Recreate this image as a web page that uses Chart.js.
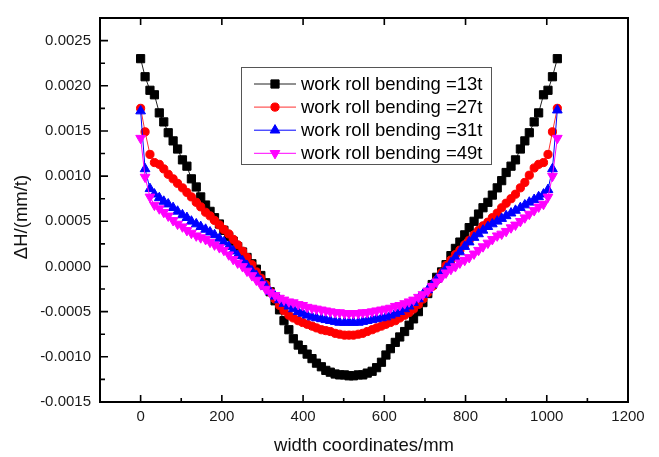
<!DOCTYPE html>
<html>
<head>
<meta charset="utf-8">
<script src="https://cdn.jsdelivr.net/npm/chart.js@4.4.0/dist/chart.umd.min.js"></script>
<style>
  html, body { margin: 0; padding: 0; background: #fff; }
  #wrap { width: 659px; height: 457px; }
</style>
</head>
<body>
<div id="wrap"><canvas id="chart" width="659" height="457"></canvas></div>
<script>
// width coordinate of each node (mm)
const widthMm = [0, 11, 23, 34, 46, 57, 68, 80, 91, 103, 114, 125, 137, 148, 160, 171, 182, 194, 205, 217,
  228, 239, 251, 262, 274, 285, 296, 308, 319, 331, 342, 353, 365, 376, 388, 399, 410, 422, 433, 445,
  456, 467, 479, 490, 502, 513, 524, 536, 547, 558, 570, 581, 593, 604, 615, 627, 638, 650, 661, 672,
  684, 695, 707, 718, 729, 741, 752, 764, 775, 786, 798, 809, 821, 832, 843, 855, 866, 878, 889, 900,
  912, 923, 935, 946, 957, 969, 980, 992, 1003, 1014, 1026];

const bend13 = [0.00230, 0.00210, 0.00195, 0.00190, 0.00170, 0.00160, 0.00148, 0.00139, 0.00130, 0.00118,
  0.00111, 0.00097, 0.00088, 0.00077, 0.00068, 0.00061, 0.00054, 0.00047, 0.00040, 0.00033,
  0.00028, 0.00022, 0.00016, 0.00010, 0.00003, -0.00003, -0.00010, -0.00018, -0.00028, -0.00038,
  -0.00048, -0.00060, -0.00070, -0.00080, -0.00087, -0.00092, -0.00097, -0.00102, -0.00107, -0.00111,
  -0.00115, -0.00117, -0.00119, -0.00120, -0.00120, -0.00121,
  -0.00121, -0.00120, -0.00120, -0.00118, -0.00116, -0.00112, -0.00106, -0.00098, -0.00091, -0.00084,
  -0.00078, -0.00072, -0.00065, -0.00058, -0.00050, -0.00040, -0.00030, -0.00020, -0.00012, -0.00006,
  0.00002, 0.00012, 0.00020, 0.00027, 0.00035, 0.00043, 0.00050, 0.00058, 0.00065, 0.00071,
  0.00079, 0.00087, 0.00095, 0.00104, 0.00111, 0.00118, 0.00130, 0.00139, 0.00148, 0.00160,
  0.00170, 0.00190, 0.00195, 0.00210, 0.00230];

const bend27 = [0.00175, 0.00149, 0.00124, 0.00115, 0.00113, 0.00108, 0.00102, 0.00097, 0.00092, 0.00087,
  0.00082, 0.00077, 0.00071, 0.00066, 0.00060, 0.00056, 0.00051, 0.00046, 0.00041, 0.00036,
  0.00030, 0.00024, 0.00017, 0.00010, 0.00002, -0.00006, -0.00013, -0.00020, -0.00028, -0.00036,
  -0.00043, -0.00049, -0.00054, -0.00057, -0.00060, -0.00062, -0.00064, -0.00066, -0.00068, -0.00070,
  -0.00071, -0.00072, -0.00074, -0.00075, -0.00076, -0.00076,
  -0.00076, -0.00075, -0.00074, -0.00072, -0.00070, -0.00068, -0.00066, -0.00064, -0.00062, -0.00060,
  -0.00057, -0.00054, -0.00051, -0.00047, -0.00042, -0.00036, -0.00029, -0.00022, -0.00015, -0.00007,
  0.00001, 0.00007, 0.00013, 0.00018, 0.00024, 0.00029, 0.00035, 0.00040, 0.00045, 0.00049,
  0.00054, 0.00059, 0.00065, 0.00070, 0.00075, 0.00080, 0.00087, 0.00093, 0.00101, 0.00109,
  0.00113, 0.00115, 0.00124, 0.00149, 0.00175];

const bend31 = [0.00172, 0.00108, 0.00086, 0.00080, 0.00076, 0.00072, 0.00069, 0.00065, 0.00061, 0.00057,
  0.00054, 0.00050, 0.00047, 0.00044, 0.00041, 0.00038, 0.00035, 0.00031, 0.00027, 0.00022,
  0.00017, 0.00012, 0.00006, 0.00001, -0.00005, -0.00010, -0.00016, -0.00022, -0.00028, -0.00033,
  -0.00037, -0.00041, -0.00044, -0.00047, -0.00050, -0.00052, -0.00054, -0.00056, -0.00057, -0.00058,
  -0.00059, -0.00060, -0.00061, -0.00062, -0.00062, -0.00062,
  -0.00062, -0.00062, -0.00061, -0.00060, -0.00059, -0.00058, -0.00057, -0.00056, -0.00054, -0.00052,
  -0.00050, -0.00047, -0.00044, -0.00040, -0.00036, -0.00031, -0.00026, -0.00020, -0.00014, -0.00008,
  -0.00002, 0.00004, 0.00010, 0.00016, 0.00022, 0.00027, 0.00032, 0.00036, 0.00040, 0.00044,
  0.00047, 0.00050, 0.00053, 0.00056, 0.00059, 0.00062, 0.00065, 0.00068, 0.00071, 0.00074,
  0.00077, 0.00080, 0.00085, 0.00108, 0.00173];

const bend49 = [0.00142, 0.00099, 0.00077, 0.00068, 0.00064, 0.00060, 0.00056, 0.00051, 0.00047, 0.00044,
  0.00040, 0.00037, 0.00034, 0.00032, 0.00030, 0.00027, 0.00024, 0.00021, 0.00018, 0.00013,
  0.00008, 0.00004, 0.00000, -0.00005, -0.00010, -0.00015, -0.00020, -0.00025, -0.00029, -0.00032,
  -0.00035, -0.00037, -0.00039, -0.00040, -0.00042, -0.00043, -0.00045, -0.00046, -0.00047, -0.00048,
  -0.00049, -0.00050, -0.00051, -0.00051, -0.00052, -0.00052,
  -0.00052, -0.00052, -0.00051, -0.00051, -0.00050, -0.00049, -0.00048, -0.00047, -0.00046, -0.00044,
  -0.00043, -0.00041, -0.00039, -0.00037, -0.00034, -0.00031, -0.00027, -0.00022, -0.00017, -0.00012,
  -0.00007, -0.00003, 0.00000, 0.00004, 0.00007, 0.00010, 0.00014, 0.00018, 0.00022, 0.00026,
  0.00030, 0.00034, 0.00036, 0.00039, 0.00043, 0.00046, 0.00050, 0.00054, 0.00058, 0.00062,
  0.00066, 0.00069, 0.00077, 0.00100, 0.00142];

const seriesNames = ["work roll bending =13t", "work roll bending =27t", "work roll bending =31t", "work roll bending =49t"];

const xTicks = [0, 200, 400, 600, 800, 1000, 1200];
const xMinor = [100, 300, 500, 700, 900, 1100];
const yTicks = [-0.0015, -0.0010, -0.0005, 0, 0.0005, 0.0010, 0.0015, 0.0020, 0.0025];
const yMinor = [-0.00125, -0.00075, -0.00025, 0.00025, 0.00075, 0.00125, 0.00175, 0.00225];

const FONT = "'Liberation Sans', Arial, sans-serif";

const styles = [
  { color: "#000000", line: "#222222", pointStyle: "rect", radius: 5.8, rotation: 0 },
  { color: "#ff0000", line: "#ff3030", pointStyle: "circle", radius: 4.1, rotation: 0 },
  { color: "#0000ff", line: "#0000ff", pointStyle: "triangle", radius: 5.6, rotation: 0 },
  { color: "#ff00ff", line: "#ff00ff", pointStyle: "triangle", radius: 5.6, rotation: 180 },
];

const allSeries = [bend13, bend27, bend31, bend49];

const datasets = allSeries.map((vals, i) => ({
  label: seriesNames[i],
  data: widthMm.map((x, k) => ({ x, y: vals[k] })),
  borderColor: styles[i].line,
  borderWidth: 1,
  backgroundColor: styles[i].color,
  pointBackgroundColor: styles[i].color,
  pointBorderColor: styles[i].color,
  pointBorderWidth: 1,
  pointStyle: styles[i].pointStyle,
  pointRadius: styles[i].radius,
  pointRotation: styles[i].rotation,
  tension: 0,
  order: 4 - i,
}));

// frame, inward ticks, y title and boxed legend
const decor = {
  id: "decor",
  afterDraw(chart) {
    const { ctx, chartArea: a, scales: { x, y } } = chart;
    ctx.save();
    ctx.strokeStyle = "#000";
    ctx.lineWidth = 2;
    ctx.strokeRect(a.left, a.top, a.right - a.left, a.bottom - a.top);

    ctx.lineWidth = 1.6;
    ctx.beginPath();
    xTicks.forEach((v) => {
      const p = x.getPixelForValue(v);
      if (p < a.left + 1 || p > a.right - 1) return;
      ctx.moveTo(p, a.bottom); ctx.lineTo(p, a.bottom - 7);
      ctx.moveTo(p, a.top); ctx.lineTo(p, a.top + 7);
    });
    xMinor.forEach((v) => {
      const p = x.getPixelForValue(v);
      ctx.moveTo(p, a.bottom); ctx.lineTo(p, a.bottom - 4);
    });
    yTicks.forEach((v) => {
      const p = y.getPixelForValue(v);
      if (p < a.top + 1 || p > a.bottom - 1) return;
      ctx.moveTo(a.left, p); ctx.lineTo(a.left + 8, p);
    });
    yMinor.forEach((v) => {
      const p = y.getPixelForValue(v);
      ctx.moveTo(a.left, p); ctx.lineTo(a.left + 5, p);
    });
    ctx.stroke();

    // y axis title
    ctx.fillStyle = "#111";
    ctx.font = "18.5px " + FONT;
    ctx.textAlign = "center";
    ctx.textBaseline = "middle";
    ctx.translate(22, 217);
    ctx.rotate(-Math.PI / 2);
    ctx.fillText("\u0394H/(mm/t)", 0, 0);
    ctx.restore();

    // legend
    ctx.save();
    const box = { left: 241.5, top: 67.5, width: 250, height: 97 };
    ctx.fillStyle = "#fff";
    ctx.fillRect(box.left, box.top, box.width, box.height);
    ctx.strokeStyle = "#555";
    ctx.lineWidth = 1;
    ctx.strokeRect(box.left, box.top, box.width, box.height);
    ctx.font = "18.5px " + FONT;
    ctx.textAlign = "left";
    ctx.textBaseline = "middle";
    seriesNames.forEach((name, i) => {
      const cy = 84 + i * 23.1;
      ctx.strokeStyle = styles[i].line;
      ctx.lineWidth = 1;
      ctx.beginPath();
      ctx.moveTo(254, cy); ctx.lineTo(296, cy);
      ctx.stroke();
      ctx.fillStyle = styles[i].color;
      ctx.strokeStyle = styles[i].color;
      Chart.helpers.drawPoint(ctx, {
        pointStyle: styles[i].pointStyle,
        radius: styles[i].radius,
        rotation: styles[i].rotation,
        borderWidth: 1,
      }, 275, cy);
      ctx.fillStyle = "#000";
      ctx.fillText(name, 301, cy + 1);
    });
    ctx.restore();
  },
};

new Chart(document.getElementById("chart"), {
  type: "line",
  data: { datasets },
  plugins: [decor],
  options: {
    responsive: false,
    animation: false,
    devicePixelRatio: 1,
    layout: { padding: { top: 10, right: 31, left: 0, bottom: 0 } },
    plugins: { legend: { display: false }, tooltip: { enabled: false } },
    scales: {
      x: {
        type: "linear",
        min: -100,
        max: 1200,
        afterFit: (s) => { s.height = 55; },
        afterBuildTicks: (s) => { s.ticks = xTicks.map((v) => ({ value: v })); },
        grid: { display: false, drawTicks: false },
        border: { display: false },
        ticks: {
          padding: 6,
          color: "#1a1a1a",
          font: { family: FONT, size: 15 },
          maxRotation: 0,
          callback: (v) => String(v),
        },
        title: {
          display: true,
          text: "width coordinates/mm",
          color: "#111",
          font: { family: FONT, size: 18.5 },
          padding: { top: 0, bottom: 0 },
        },
      },
      y: {
        type: "linear",
        min: -0.0015,
        max: 0.00275,
        afterFit: (s) => { s.width = 100; },
        afterBuildTicks: (s) => { s.ticks = yTicks.map((v) => ({ value: v })); },
        grid: { display: false, drawTicks: false },
        border: { display: false },
        ticks: {
          padding: 9,
          color: "#1a1a1a",
          font: { family: FONT, size: 15 },
          callback: (v) => v.toFixed(4),
        },
      },
    },
  },
});
</script>
</body>
</html>
